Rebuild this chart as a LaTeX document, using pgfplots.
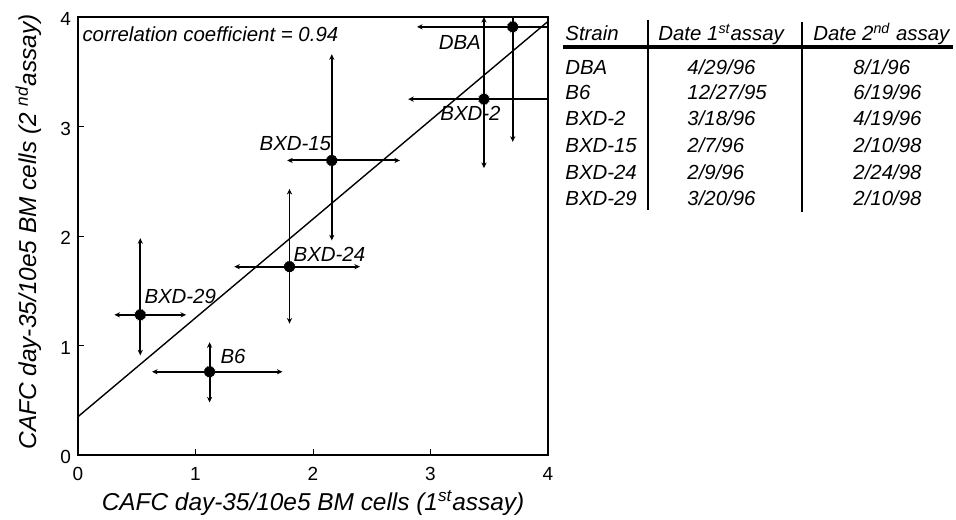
\documentclass[border=0pt]{standalone}
\usepackage{pgfplots}
\pgfplotsset{compat=1.18}
\usepackage{fontspec}
\setmainfont{Liberation Sans}
\usetikzlibrary{arrows.meta}
\newcommand{\lab}{\fontsize{10.2}{12}\selectfont\itshape}
\begin{document}
\begin{tikzpicture}[x=1pt,y=1pt]
\useasboundingbox (0,0) rectangle (478,259.5);
\begin{axis}[
  at={(39pt,32pt)}, anchor=south west,
  scale only axis, width=235pt, height=219pt,
  xmin=0, xmax=4, ymin=0, ymax=4,
  xtick={0,1,2,3,4}, ytick={0,1,2,3,4},
  tick pos=left, tick align=inside, major tick length=3pt,
  axis line style={line width=1pt},
  every tick/.style={black, line width=0.5pt},
  /pgf/number format/assume math mode=true,
  ticklabel style={font=\fontsize{9.5}{11}\selectfont},
  xticklabel style={yshift=-2.5pt},
  yticklabel style={yshift=-1pt},
  xlabel={CAFC day-35/10e5 BM cells (1\textsuperscript{st}assay)},
  ylabel={CAFC day-35/10e5 BM cells (2 \textsuperscript{nd}assay)},
  label style={font=\fontsize{12.2}{14}\selectfont\itshape},
  x label style={at={(axis description cs:0.5,-0.11)}, anchor=center},
  y label style={at={(axis description cs:-0.105,0.509)}, anchor=center},
  clip=true,
]
\addplot[black, line width=0.7pt, no marks] coordinates {(0,0.35) (4,3.96)};
\addplot[black, only marks, mark=*, mark size=2.6pt,
  error bars/.cd, x dir=both, x explicit, y dir=both, y explicit,
  error mark=none,
  error bar style={line width=0.95pt, {Stealth[length=2.8pt,width=2.6pt]}-{Stealth[length=2.8pt,width=2.6pt]}}]
coordinates {
 (3.70,3.91) += (0.7,0.5) -= (0.815,1.05)
 (3.455,3.25) += (1.0,0.75) -= (0.645,0.63)
 (2.16,2.69) += (0.58,0.97) -= (0.38,0.73)
 (1.80,1.72) += (0.60,0.71) -= (0.47,0.52)
 (0.53,1.28) += (0.39,0.70) -= (0.22,0.37)
 (1.12,0.76) += (0.62,0.27) -= (0.49,0.28)
};
\node[font=\lab] at (axis cs:3.25,3.77) {DBA};
\node[font=\lab] at (axis cs:3.34,3.12) {BXD-2};
\node[font=\lab] at (axis cs:1.85,2.84) {BXD-15};
\node[font=\lab] at (axis cs:2.14,1.83) {BXD-24};
\node[font=\lab] at (axis cs:0.87,1.45) {BXD-29};
\node[font=\lab] at (axis cs:1.32,0.90) {B6};
\node[font=\lab, anchor=west, inner sep=0pt] at (axis cs:0.035,3.84) {correlation coefficient = 0.94};
\end{axis}
% table
\draw[line width=1.6pt] (281.5,236) -- (476.5,236);
\draw[line width=1.3pt] (324,249.5) -- (324,154.5);
\draw[line width=1.3pt] (401,248.5) -- (401,153.5);
\begin{scope}[every node/.style={anchor=base west, inner sep=0pt, font=\lab}]
\node at (282.5,239.3) {Strain};
\node at (329,239.3) {Date 1\textsuperscript{st}assay};
\node at (406.5,239.3) {Date 2\textsuperscript{nd} assay};
\node at (282.5,222.3) {DBA};
\node at (282.5,209.8) {B6};
\node at (282.5,196.8) {BXD-2};
\node at (282.5,183.3) {BXD-15};
\node at (282.5,169.8) {BXD-24};
\node at (282.5,156.8) {BXD-29};
\node at (343.5,222.3) {4/29/96};
\node at (343.5,209.8) {12/27/95};
\node at (343.5,196.8) {3/18/96};
\node at (343.5,183.3) {2/7/96};
\node at (343.5,169.8) {2/9/96};
\node at (343.5,156.8) {3/20/96};
\node at (426.5,222.3) {8/1/96};
\node at (426.5,209.8) {6/19/96};
\node at (426.5,196.8) {4/19/96};
\node at (426.5,183.3) {2/10/98};
\node at (426.5,169.8) {2/24/98};
\node at (426.5,156.8) {2/10/98};
\end{scope}
\end{tikzpicture}
\end{document}
